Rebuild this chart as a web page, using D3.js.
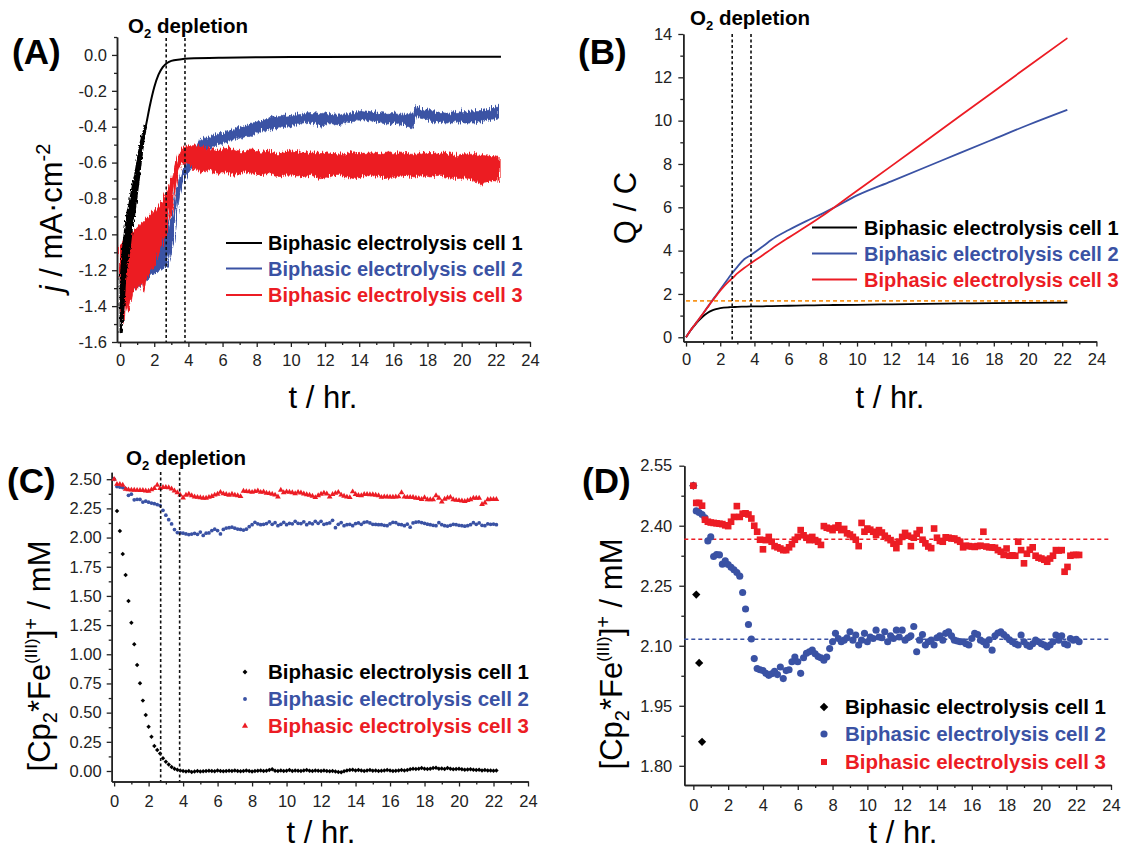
<!DOCTYPE html>
<html><head><meta charset="utf-8">
<script src="https://cdn.jsdelivr.net/npm/d3@7"></script>
<style>
body{margin:0;background:#fff}
svg{display:block}
text{font-family:"Liberation Sans",Arial,sans-serif}
</style>
</head><body>
<svg id="chart" width="1129" height="857">
<defs>
<filter id="jag" x="-3%" y="-30%" width="106%" height="160%">
<feTurbulence type="fractalNoise" baseFrequency="0.85 0.05" numOctaves="2" seed="7" result="t"/>
<feDisplacementMap in="SourceGraphic" in2="t" scale="9" xChannelSelector="B" yChannelSelector="G"/>
</filter>
<filter id="jagSmall" x="-10%" y="-10%" width="120%" height="120%">
<feTurbulence type="fractalNoise" baseFrequency="0.6 0.3" numOctaves="2" seed="3" result="t"/>
<feDisplacementMap in="SourceGraphic" in2="t" scale="4" xChannelSelector="R" yChannelSelector="G"/>
</filter>
</defs>
</svg>
<script>
// ---------------- DATA ----------------
const seriesNames = ["Biphasic electrolysis cell 1", "Biphasic electrolysis cell 2", "Biphasic electrolysis cell 3"];
const o2DepletionTimes = [2.7, 3.8];

// Panel A: current density j (mA/cm^2), noisy traces as [t, lower envelope, upper envelope]
const cell1_j = [[0.03,-1.55,-1.25],[0.16,-1.47,-1.087],[0.3,-1.25,-0.97],[0.39,-1.17,-0.9],[0.55,-1.087,-0.83],[0.7,-0.96,-0.75],[0.82,-0.9,-0.7],[0.95,-0.8,-0.63],[1.07,-0.715,-0.56],[1.2,-0.61,-0.49],[1.3,-0.53,-0.45],[1.4,-0.46,-0.42],[1.5,-0.41,-0.39],[1.75,-0.285,-0.275],[2.0,-0.185,-0.175],[2.25,-0.115,-0.105],[2.5,-0.072,-0.064],[2.75,-0.048,-0.042],[3.0,-0.036,-0.03],[3.5,-0.027,-0.023],[4,-0.022,-0.018],[6,-0.017,-0.013],[10,-0.014,-0.01],[16,-0.012,-0.008],[22.3,-0.012,-0.008]];
const cell2_j = [[0.05,-1.4,-1.1],[0.3,-1.33,-1.05],[0.6,-1.32,-1.0],[1.0,-1.3,-0.98],[1.5,-1.26,-0.95],[2.0,-1.22,-0.93],[2.4,-1.2,-0.95],[2.7,-1.18,-1.0],[2.9,-1.12,-0.95],[3.1,-1.05,-0.85],[3.3,-0.9,-0.75],[3.5,-0.78,-0.68],[3.8,-0.68,-0.6],[4.2,-0.63,-0.55],[4.7,-0.55,-0.47],[5.2,-0.52,-0.46],[5.7,-0.5,-0.44],[6.2,-0.49,-0.43],[6.7,-0.47,-0.41],[7.2,-0.46,-0.4],[7.7,-0.45,-0.38],[8.2,-0.43,-0.37],[8.7,-0.42,-0.35],[9.2,-0.41,-0.345],[9.7,-0.4,-0.34],[10.2,-0.39,-0.335],[10.7,-0.38,-0.33],[11.2,-0.375,-0.32],[11.7,-0.4,-0.325],[12.2,-0.38,-0.33],[12.7,-0.39,-0.335],[13.2,-0.38,-0.33],[13.7,-0.37,-0.32],[14.2,-0.36,-0.31],[14.7,-0.37,-0.315],[15.2,-0.38,-0.32],[15.7,-0.385,-0.325],[16.2,-0.38,-0.33],[16.7,-0.39,-0.33],[17.1,-0.41,-0.335],[17.3,-0.34,-0.285],[17.7,-0.35,-0.3],[18.2,-0.37,-0.315],[18.7,-0.375,-0.32],[19.2,-0.38,-0.325],[19.7,-0.37,-0.32],[20.2,-0.38,-0.315],[20.7,-0.38,-0.31],[21.2,-0.37,-0.31],[21.7,-0.36,-0.3],[22.2,-0.35,-0.285]];
const cell3_j = [[0.02,-1.46,-1.06],[0.12,-1.42,-1.05],[0.23,-1.5,-1.03],[0.35,-1.38,-1.02],[0.48,-1.43,-1.0],[0.59,-1.4,-1.0],[0.75,-1.33,-0.98],[0.9,-1.3,-0.97],[1.05,-1.31,-0.96],[1.2,-1.27,-0.94],[1.37,-1.33,-0.93],[1.55,-1.24,-0.91],[1.75,-1.21,-0.89],[1.95,-1.19,-0.874],[2.15,-1.14,-0.85],[2.34,-1.09,-0.827],[2.5,-1.05,-0.81],[2.63,-1.01,-0.79],[2.78,-0.96,-0.76],[2.93,-0.9,-0.715],[3.08,-0.83,-0.66],[3.22,-0.753,-0.604],[3.42,-0.641,-0.548],[3.6,-0.604,-0.53],[3.8,-0.6,-0.51],[4.2,-0.62,-0.505],[4.7,-0.66,-0.51],[5.2,-0.64,-0.52],[5.7,-0.66,-0.53],[6.2,-0.65,-0.52],[6.7,-0.67,-0.53],[7.2,-0.65,-0.54],[7.7,-0.66,-0.53],[8.2,-0.67,-0.54],[8.7,-0.66,-0.53],[9.2,-0.68,-0.55],[9.7,-0.67,-0.54],[10.2,-0.67,-0.535],[10.7,-0.68,-0.55],[11.2,-0.67,-0.54],[11.7,-0.69,-0.55],[12.2,-0.68,-0.545],[12.7,-0.67,-0.55],[13.2,-0.68,-0.555],[13.7,-0.69,-0.54],[14.2,-0.68,-0.55],[14.7,-0.67,-0.545],[15.2,-0.68,-0.55],[15.7,-0.69,-0.54],[16.2,-0.68,-0.545],[16.7,-0.67,-0.55],[17.2,-0.68,-0.555],[17.7,-0.675,-0.545],[18.2,-0.68,-0.55],[18.7,-0.67,-0.545],[19.2,-0.685,-0.55],[19.7,-0.69,-0.56],[20.2,-0.685,-0.55],[20.7,-0.7,-0.555],[21.2,-0.72,-0.56],[21.7,-0.7,-0.565],[22.2,-0.705,-0.57]];

// Panel B: charge Q (C)
const timeQ = [0,0.25,0.5,0.75,1.0,1.25,1.5,1.75,2.0,2.5,2.7,3.0,3.4,3.8,4.5,5,6,7,8,8.6,10,12,14,16,18,20,22.3];
const cell1_Q = [0,0.3,0.55,0.78,0.97,1.12,1.23,1.3,1.35,1.385,1.39,1.405,1.415,1.425,1.43,1.44,1.455,1.47,1.48,1.49,1.5,1.52,1.54,1.56,1.58,1.59,1.6];
const cell2_Q = [0,0.3,0.57,0.83,1.1,1.38,1.66,1.93,2.2,2.75,2.96,3.25,3.6,3.8,4.2,4.5,4.95,5.35,5.72,5.96,6.55,7.2,7.85,8.5,9.15,9.8,10.5];
const cell3_Q = [0,0.3,0.57,0.83,1.1,1.37,1.64,1.9,2.15,2.58,2.72,2.95,3.2,3.42,3.8,4.08,4.6,5.1,5.62,5.96,6.76,7.9,9.05,10.2,11.35,12.5,13.81];
const theoreticalQ = 1.68;

// Panels C & D: [Cp2*Fe(III)]+ concentration (mM), sampled every 10 minutes
const sampleIntervalHr = 1/6;
const cell1_conc = [2.50,2.228,2.057,1.86,1.68,1.457,1.271,1.085,0.908,0.751,0.603,0.479,0.379,0.294,0.215,0.18,0.15,0.11,0.08,0.055,0.035,0.02,0.01,0.005,
0.0,-0.005,0.0,-0.008,-0.005,0.0,-0.005,-0.003,0.0,0.003,0.0,-0.003,0.005,0.0,-0.002,0.0,0.003,
0.0,0.005,0.0,-0.003,0.0,0.004,0.0,-0.005,0.0,0.003,0.005,0.0,0.002,0.008,0.015,0.003,0.0,0.005,0.0,0.003,
0.008,0.0,0.005,0.002,0.0,0.005,0.008,0.003,0.0,0.005,0.002,0.0,0.005,0.0,-0.003,0.0,-0.005,-0.008,-0.01,-0.003,
0.005,0.008,0.01,0.005,0.008,0.005,0.0,0.005,0.008,0.003,0.005,0.0,0.003,0.005,0.008,0.005,0.0,0.003,0.005,0.008,
0.005,0.008,0.015,0.02,0.018,0.02,0.025,0.02,0.018,0.02,0.025,0.028,0.02,0.022,0.018,0.025,0.02,0.015,0.018,0.02,
0.015,0.01,0.012,0.015,0.01,0.008,0.01,0.005,0.008,0.005,0.005,0.003,0.005];
const cell2_conc = [2.50,2.437,2.433,2.428,2.42,2.362,2.372,2.323,2.328,2.327,2.304,2.312,2.303,2.296,2.29,2.283,2.274,2.233,2.192,2.153,2.117,2.068,2.043,2.04,2.038,2.031,2.026,2.03,2.036,2.028,2.047,2.018,2.038,2.04,2.06,2.072,2.06,2.031,2.07,2.081,2.085,
2.089,2.08,2.073,2.07,2.064,2.072,2.093,2.11,2.131,2.118,
2.11,2.114,2.12,2.135,2.114,2.127,2.102,2.114,2.131,2.11,
2.122,2.118,2.139,2.122,2.12,2.135,2.11,2.125,2.118,2.139,
2.122,2.139,2.114,2.12,2.125,2.148,2.085,2.114,2.128,2.102,
2.11,2.114,2.102,2.12,2.125,2.114,2.131,2.135,2.125,2.114,
2.112,2.11,2.11,2.105,2.102,2.118,2.131,2.128,2.114,2.11,
2.102,2.115,2.089,2.125,2.132,2.135,2.128,2.122,2.115,2.11,
2.105,2.102,2.127,2.11,2.102,2.098,2.105,2.114,2.11,2.105,
2.102,2.097,2.102,2.11,2.127,2.114,2.125,2.105,2.102,2.118,
2.114,2.116,2.11];
const cell3_conc = [2.50,2.457,2.457,2.45,2.415,2.41,2.408,2.407,2.406,2.405,
2.404,2.401,2.399,2.41,2.422,2.449,2.422,2.43,2.431,2.428,
2.418,2.40,2.385,2.365,2.341,2.364,2.372,2.36,2.349,2.346,
2.343,2.339,2.339,2.346,2.354,2.365,2.372,2.389,2.376,2.37,
2.364,2.372,2.364,2.36,2.352,2.399,2.395,2.393,2.389,2.395,
2.401,2.389,2.392,2.381,2.378,2.372,2.365,2.349,2.407,2.385,
2.393,2.39,2.385,2.377,2.389,2.383,2.375,2.369,2.364,2.355,
2.344,2.36,2.372,2.382,2.375,2.349,2.37,2.38,2.389,2.365,
2.356,2.348,2.344,2.393,2.37,2.362,2.36,2.371,2.37,2.368,
2.368,2.364,2.36,2.346,2.35,2.349,2.348,2.347,2.349,2.35,
2.385,2.348,2.346,2.346,2.345,2.339,2.335,2.327,2.343,2.325,
2.326,2.325,2.36,2.339,2.306,2.33,2.34,2.346,2.325,2.32,
2.318,2.315,2.31,2.318,2.325,2.339,2.338,2.339,2.285,2.297,
2.325,2.327,2.327,2.327];
const avgConcCell2 = 2.116, avgConcCell3 = 2.366;

// Tick values
const hourTicks = [0,2,4,6,8,10,12,14,16,18,20,22,24];
const jTicks = [-1.6,-1.4,-1.2,-1.0,-0.8,-0.6,-0.4,-0.2,0.0];
const qTicks = [0,2,4,6,8,10,12,14];
const concTicksC = [0,0.25,0.5,0.75,1.0,1.25,1.5,1.75,2.0,2.25,2.5];
const concTicksD = [1.80,1.95,2.10,2.25,2.40,2.55];

// ---------------- DRAWING ----------------
const BLACK = "#000000", BLUE = "#3a52a4", RED = "#ec1c24", ORANGE = "#f7941d";
const colors = [BLACK, BLUE, RED];
const svg = d3.select("#chart");
const hyph = s => s.replace("\u2212", "-");
const SYM = {diamond:d3.symbolSquare, circle:d3.symbolCircle, triangle:d3.symbolTriangle, square:d3.symbolSquare};
const ROT = k => k==="diamond" ? " rotate(45)" : "";

function mids(a){ const m=[]; for(let i=0;i+1<a.length;i++) m.push((a[i]+a[i+1])/2); return m; }

function makePanel(c){
  const x = d3.scaleLinear().domain(c.xd).range(c.xr);
  const y = d3.scaleLinear().domain(c.yd).range(c.yr);
  const g = svg.append("g");
  const ax = g.append("g").attr("transform",`translate(0,${c.yr[0]})`);
  ax.call(d3.axisBottom(x).tickValues(mids(hourTicks)).tickSize(3).tickFormat("").tickSizeOuter(0));
  ax.append("g").call(d3.axisBottom(x).tickValues(hourTicks).tickSize(5).tickPadding(c.xpad).tickFormat(d=>d).tickSizeOuter(0));
  const ay = g.append("g").attr("transform",`translate(${c.xr[0]},0)`);
  ay.call(d3.axisLeft(y).tickValues(c.yminor).tickSize(3).tickFormat("").tickSizeOuter(0));
  ay.append("g").call(d3.axisLeft(y).tickValues(c.yticks).tickSize(5).tickPadding(c.ypad).tickFormat(d=>hyph(d3.format(c.yfmt)(d))).tickSizeOuter(0));
  g.selectAll(".domain").attr("stroke","#222").attr("stroke-width",1.5);
  g.selectAll(".tick line").attr("stroke","#222").attr("stroke-width",1.3);
  g.selectAll(".tick text").attr("font-size",16.5).attr("fill","#222").attr("font-family","'Liberation Sans',Arial,sans-serif");
  return {x,y,g};
}

function panelLabel(txt,x,y){
  svg.append("text").attr("x",x).attr("y",y).attr("font-family","'Open Sans',sans-serif").attr("font-weight",700).attr("font-size",35).text(txt);
}
function o2Label(x,y){
  const t = svg.append("text").attr("x",x).attr("y",y).attr("font-family","'Open Sans',sans-serif").attr("font-weight",700).attr("font-size",20.5);
  t.append("tspan").text("O");
  t.append("tspan").attr("font-size",13).attr("dy",5).text("2");
  t.append("tspan").attr("dy",-5).text(" depletion");
}
function xTitle(x,y){
  svg.append("text").attr("x",x).attr("y",y).attr("text-anchor","middle").attr("font-size",31).text("t / hr.");
}
function concTitle(x,y){
  const t = svg.append("text").attr("transform",`translate(${x},${y}) rotate(-90)`).attr("text-anchor","middle").attr("font-size",31);
  t.append("tspan").text("[Cp");
  t.append("tspan").attr("font-size",20).attr("dy",7).text("2");
  t.append("tspan").attr("dy",-7).text("*Fe");
  t.append("tspan").attr("font-size",17).attr("dy",-13).text("(III)");
  t.append("tspan").attr("dy",13).text("]");
  t.append("tspan").attr("font-size",20).attr("dy",-12).text("+");
  t.append("tspan").attr("dy",12).text(" / mM");
}
function vDashes(P, top, bottom){
  o2DepletionTimes.forEach(tv=>{
    P.g.append("line").attr("x1",P.x(tv)).attr("x2",P.x(tv)).attr("y1",top).attr("y2",bottom)
      .attr("stroke","#111").attr("stroke-width",1.6).attr("stroke-dasharray","3,2.5");
  });
}
function lineLegend(x0,x1,tx,ys){
  seriesNames.forEach((n,i)=>{
    svg.append("line").attr("x1",x0).attr("x2",x1).attr("y1",ys[i]).attr("y2",ys[i]).attr("stroke",colors[i]).attr("stroke-width",2);
    svg.append("text").attr("x",tx).attr("y",ys[i]).attr("dy","0.36em").attr("font-weight",700).attr("font-size",20).attr("fill",colors[i]).text(n);
  });
}
function marker(sel, kind, size, color){
  sel.append("path").attr("transform", ROT(kind)).attr("d", d3.symbol().type(SYM[kind]).size(size)()).attr("fill",color);
}

// ===== Panel A =====
const A = makePanel({xd:[-0.18,24], xr:[117,530], yd:[-1.6,0.1], yr:[342,37], yticks:jTicks,
  yminor:[-1.5,-1.3,-1.1,-0.9,-0.7,-0.5,-0.3,-0.1,0.1], yfmt:".1f", xpad:7, ypad:5});
const bandA = d3.area().x(d=>A.x(d[0])).y0(d=>A.y(d[1])).y1(d=>A.y(d[2]));
const noisyEnd = 1.55; // black trace is only noisy in its first hours
[[cell2_j,BLUE,"jag"],[cell3_j,RED,"jag"],[cell1_j.filter(d=>d[0]<=noisyEnd),BLACK,"jagSmall"]].forEach(([d,col,f])=>{
  A.g.append("path").datum(d).attr("d",bandA).attr("fill",col).attr("stroke",col).attr("stroke-width",f==="jag"?0.6:2).attr("filter",`url(#${f})`);
});
A.g.append("path").datum(cell1_j).attr("fill","none").attr("stroke",BLACK).attr("stroke-width",2)
  .attr("d", d3.line().x(d=>A.x(d[0])).y(d=>A.y((d[1]+d[2])/2)).curve(d3.curveMonotoneX));
vDashes(A, 38, 342);
panelLabel("(A)",12,64);
o2Label(128,33);
xTitle(323,408);
{
  const t = svg.append("text").attr("transform","translate(62,218) rotate(-90)").attr("text-anchor","middle").attr("font-size",31);
  t.append("tspan").attr("font-style","italic").text("j");
  t.append("tspan").text(" / mA\u00B7cm");
  t.append("tspan").attr("font-size",20).attr("dy",-12).text("-2");
}
lineLegend(226,262,268,[243,268.5,295]);

// ===== Panel B =====
const B = makePanel({xd:[-0.16,24], xr:[683.3,1096.4], yd:[-0.2,14], yr:[341.6,34], yticks:qTicks,
  yminor:[1,3,5,7,9,11,13], yfmt:"d", xpad:7, ypad:6});
B.g.append("line").attr("x1",B.x(0)).attr("x2",B.x(22.3)).attr("y1",B.y(theoreticalQ)).attr("y2",B.y(theoreticalQ))
  .attr("stroke",ORANGE).attr("stroke-width",1.6).attr("stroke-dasharray","4,3");
const lineB = ys => d3.line().x((d,i)=>B.x(timeQ[i])).y(d=>B.y(d)).curve(d3.curveMonotoneX)(ys);
[[cell1_Q,BLACK],[cell2_Q,BLUE],[cell3_Q,RED]].forEach(([d,col])=>{
  B.g.append("path").attr("d",lineB(d)).attr("fill","none").attr("stroke",col).attr("stroke-width",1.8);
});
vDashes(B, 34, 341.6);
panelLabel("(B)",578,64);
o2Label(690,25);
xTitle(890,408);
svg.append("text").attr("transform","translate(636,208) rotate(-90)").attr("text-anchor","middle").attr("font-size",31).text("Q / C");
lineLegend(812,857,864,[227.5,253.5,279.5]);

// ===== Panel C =====
const C = makePanel({xd:[-0.14,24], xr:[111.7,528], yd:[-0.09,2.56], yr:[781.5,472.2], yticks:concTicksC,
  yminor:[0.125,0.375,0.625,0.875,1.125,1.375,1.625,1.875,2.125,2.375], yfmt:".2f", xpad:9, ypad:5});
const sizesC = {diamond:10, circle:11, triangle:14};
[[cell1_conc,"diamond"],[cell2_conc,"circle"],[cell3_conc,"triangle"]].forEach(([d,kind],si)=>{
  C.g.append("g").selectAll("path").data(d).join("path")
    .attr("transform",(v,i)=>`translate(${C.x(i*sampleIntervalHr)},${C.y(v)})${ROT(kind)}`)
    .attr("d", d3.symbol().type(SYM[kind]).size(sizesC[kind])())
    .attr("fill",colors[si]);
});
vDashes(C, 472, 781.5);
panelLabel("(C)",7,493);
o2Label(126,465);
xTitle(321,843);
concTitle(50,656);
seriesNames.forEach((n,i)=>{
  const yy=[672,699,726][i];
  const m = svg.append("g").attr("transform",`translate(245,${yy})`);
  marker(m, ["diamond","circle","triangle"][i], [12,12,16][i], colors[i]);
  svg.append("text").attr("x",268).attr("y",yy).attr("dy","0.36em").attr("font-weight",700).attr("font-size",20.5).attr("fill",colors[i]).text(n);
});

// ===== Panel D =====
const D = makePanel({xd:[-0.52,24], xr:[684.3,1111], yd:[1.752,2.55], yr:[785,465.7], yticks:concTicksD,
  yminor:[1.875,2.025,2.175,2.325,2.475], yfmt:".2f", xpad:9, ypad:7});
[[avgConcCell3,RED],[avgConcCell2,BLUE]].forEach(([v,col])=>{
  D.g.append("line").attr("x1",684.3).attr("x2",1111).attr("y1",D.y(v)).attr("y2",D.y(v))
    .attr("stroke",col).attr("stroke-width",1.5).attr("stroke-dasharray","4,3");
});
const sizesD = {diamond:34, circle:40, square:44};
[[cell1_conc,"diamond"],[cell2_conc,"circle"],[cell3_conc,"square"]].forEach(([d,kind],si)=>{
  const pts = d.map((v,i)=>[i*sampleIntervalHr,v]).filter(p=>p[1]>=1.752 && p[1]<=2.55);
  D.g.append("g").selectAll("path").data(pts).join("path")
    .attr("transform",p=>`translate(${D.x(p[0])},${D.y(p[1])})${ROT(kind)}`)
    .attr("d", d3.symbol().type(SYM[kind]).size(sizesD[kind])())
    .attr("fill",colors[si]);
});
panelLabel("(D)",582,493);
xTitle(903,843);
concTitle(622,654);
seriesNames.forEach((n,i)=>{
  const yy=[707,734,762][i];
  const m = svg.append("g").attr("transform",`translate(824,${yy})`);
  marker(m, ["diamond","circle","square"][i], [36,40,36][i], colors[i]);
  svg.append("text").attr("x",845).attr("y",yy).attr("dy","0.36em").attr("font-weight",700).attr("font-size",20.5).attr("fill",colors[i]).text(n);
});
</script>
</body></html>
